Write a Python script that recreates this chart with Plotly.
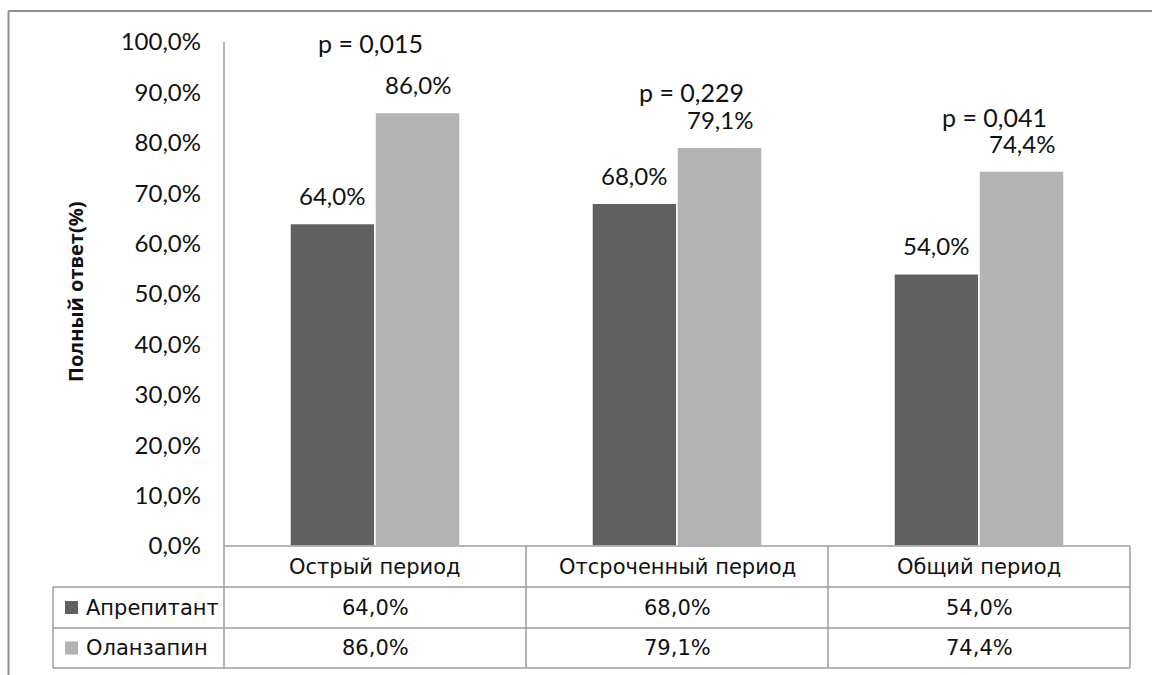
import plotly.graph_objects as go

# ---- data ----
categories = ["Острый период", "Отсроченный период", "Общий период"]
series_names = ["Апрепитант", "Оланзапин"]
aprepitant = [64.0, 68.0, 54.0]
olanzapine = [86.0, 79.1, 74.4]
p_values = ["p = 0,015", "p = 0,229", "p = 0,041"]
y_ticks = [0, 10, 20, 30, 40, 50, 60, 70, 80, 90, 100]
y_title = "Полный ответ(%)"

# ---- styling ----
W, H = 1152, 675
L, R, T, B = 224, 1130, 42, 546          # plot area in pixels
DARK, LIGHT = "#606060", "#b3b3b3"
GRID = "#9c9c9c"
FRAME = "#8f8f8f"
NUM_FONT = "Lato, 'Open Sans', sans-serif"
TABLE_FONT = "DejaVu Sans, sans-serif"
TEXT = "#111111"


def px(x):
    return (x - L) / (R - L)


def py(y):
    return (B - y) / (B - T)


def fmt(v):
    return f"{v:.1f}%".replace(".", ",")


fig = go.Figure()
for name, vals, col in [(series_names[0], aprepitant, DARK),
                        (series_names[1], olanzapine, LIGHT)]:
    fig.add_trace(go.Bar(
        x=list(range(len(categories))), y=vals, name=name,
        marker=dict(color=col, line=dict(color="white", width=1.5)),
        hoverinfo="skip",
    ))

shapes = []


def line(x0, y0, x1, y1, color=GRID, width=1.5):
    shapes.append(dict(type="line", xref="paper", yref="paper",
                       x0=px(x0), y0=py(y0), x1=px(x1), y1=py(y1),
                       line=dict(color=color, width=width)))


# outer chart frame (left and top edges)
line(8.5, 11, 8.5, 700, FRAME, 2)
line(8.5, 11, 1160, 11, FRAME, 2)

# value axis line, running down through the table
line(L, T, L, 668)
# category axis / table header top
line(L, B, R, B)
# table column dividers
col_w = (R - L) / len(categories)
for i in range(1, len(categories) + 1):
    line(L + i * col_w, B, L + i * col_w, 668)
# table row lines
for yy in [587, 628, 668]:
    line(53, yy, R, yy)
line(53, 587, 53, 668)

annotations = []


def cell_text(x, y, text, xref="x", xanchor="center"):
    annotations.append(dict(x=x, y=py(y), xref=xref, yref="paper",
                            xanchor=xanchor, yanchor="middle",
                            text=text, showarrow=False,
                            font=dict(family=TABLE_FONT, size=21, color=TEXT)))


# category header cells
for i, c in enumerate(categories):
    cell_text(i, (B + 587) / 2, c)

# data table rows with legend keys
row_centers = [(587 + 628) / 2, (628 + 668) / 2]
for r, (name, vals, col) in enumerate([(series_names[0], aprepitant, DARK),
                                       (series_names[1], olanzapine, LIGHT)]):
    yc = row_centers[r]
    shapes.append(dict(type="rect", xref="paper", yref="paper",
                       x0=px(65), x1=px(78), y0=py(yc + 6.5), y1=py(yc - 6.5),
                       fillcolor=col, line=dict(width=0)))
    cell_text(px(84), yc, name, xref="paper", xanchor="left")
    for i, v in enumerate(vals):
        cell_text(i, yc, fmt(v))

# bar value labels
half_bar = col_w * (1 - 0.437) / 4
for i in range(len(categories)):
    for vals, sh in [(aprepitant, -half_bar), (olanzapine, half_bar)]:
        annotations.append(dict(x=i, y=vals[i], xref="x", yref="y",
                                text=fmt(vals[i]), showarrow=False,
                                xshift=sh, yshift=28, yanchor="middle",
                                font=dict(family=NUM_FONT, size=24, color=TEXT)))

# significance labels above each group
p_dx = [-5, 14, 15]
p_dy = [70, 55, 54]
for i, p in enumerate(p_values):
    annotations.append(dict(x=i, y=olanzapine[i], xref="x", yref="y",
                            text=p, showarrow=False,
                            xshift=p_dx[i], yshift=p_dy[i], yanchor="middle",
                            font=dict(family=NUM_FONT, size=25, color=TEXT)))

# rotated axis title
annotations.append(dict(x=px(75), y=py(292), xref="paper", yref="paper",
                        xanchor="center", yanchor="middle",
                        text=f"<b>{y_title}</b>", textangle=-90, showarrow=False,
                        font=dict(family="'Open Sans', sans-serif", size=20,
                                  color=TEXT)))

fig.update_layout(
    width=W, height=H,
    margin=dict(l=L, r=W - R, t=T, b=H - B, autoexpand=False),
    paper_bgcolor="white", plot_bgcolor="white",
    barmode="group", bargap=0.437, bargroupgap=0,
    showlegend=False,
    xaxis=dict(range=[-0.5, len(categories) - 0.5], showticklabels=False,
               showgrid=False, zeroline=False, showline=False, ticks=""),
    yaxis=dict(range=[0, 100], tickvals=y_ticks,
               ticktext=[fmt(v) for v in y_ticks],
               showgrid=False, zeroline=False, showline=False, ticks="",
               ticklabelstandoff=22,
               tickfont=dict(family=NUM_FONT, size=24, color=TEXT)),
    shapes=shapes,
    annotations=annotations,
)

fig.write_html("out.html")
